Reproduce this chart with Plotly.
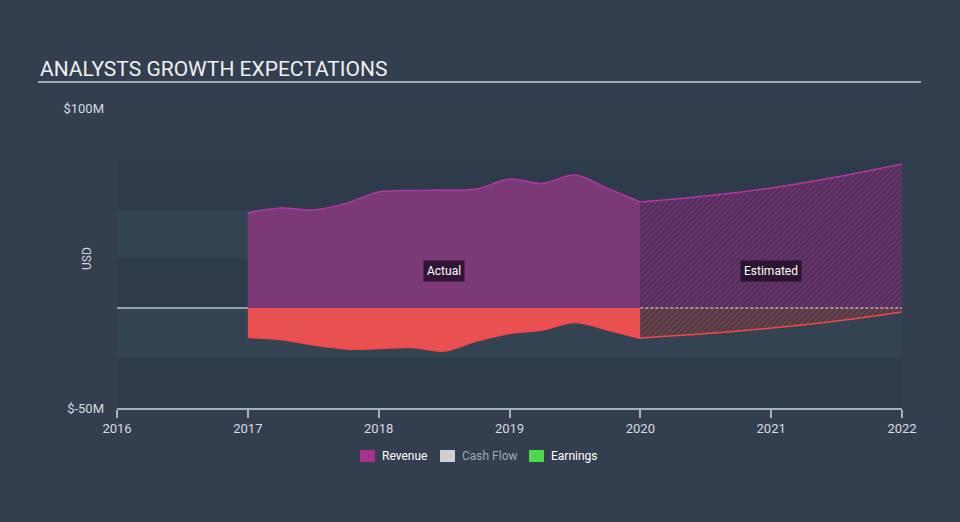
import plotly.graph_objects as go

# ---- data ----
actual_years = [2017, 2017.25, 2017.5, 2017.75, 2018, 2018.25, 2018.5, 2018.75,
                2019, 2019.25, 2019.5, 2019.75, 2020]
revenue_actual = [47.5, 50, 49, 52.3, 58, 58.8, 59, 59.5, 64.5, 62.3, 66.5, 59.8, 53]
earnings_actual = [-14.8, -15.8, -18.5, -20.5, -20.3, -19.8, -21.5, -16.5, -12.7,
                   -11, -7.2, -11, -15.2]

est_years = [2020, 2020.5, 2021, 2021.5, 2022]
revenue_est = [53, 56, 60, 65.5, 72]
earnings_est = [-15, -12.8, -10, -6.5, -2]

y_tick_vals = [-50, 100]
y_tick_text = ["$-50M", "$100M"]
x_tick_vals = [2016, 2017, 2018, 2019, 2020, 2021, 2022]

legend_items = ["Revenue", "Cash Flow", "Earnings"]
legend_colors = ["#a6348f", "#d0d0d0", "#4ddb4d"]
legend_text_colors = ["#ffffff", "#a0a8b2", "#ffffff"]

PAPER = "#333f4e"
DARK_BAND = "#2e3b4a"
LIGHT_BAND = "#344352"
FONT = "Roboto"

fig = go.Figure()

# actual revenue
fig.add_trace(go.Scatter(
    x=actual_years, y=revenue_actual, mode="lines", line_shape="spline",
    line=dict(color="#b3379f", width=1.5), fill="tozeroy",
    fillcolor="#7b3977", hoverinfo="skip", showlegend=False))
# actual earnings
fig.add_trace(go.Scatter(
    x=actual_years, y=earnings_actual, mode="lines", line_shape="spline",
    line=dict(color="#f04848", width=1.5), fill="tozeroy",
    fillcolor="#e95052", hoverinfo="skip", showlegend=False))
# estimated revenue (hatched)
fig.add_trace(go.Scatter(
    x=est_years, y=revenue_est, mode="lines", line_shape="spline",
    line=dict(color="#b3379f", width=1.5), fill="tozeroy",
    fillpattern=dict(shape="/", bgcolor="#4d2f57", fgcolor="#96388f",
                     size=4, solidity=0.45),
    hoverinfo="skip", showlegend=False))
# estimated earnings (hatched)
fig.add_trace(go.Scatter(
    x=est_years, y=earnings_est, mode="lines", line_shape="spline",
    line=dict(color="#f04848", width=1.5), fill="tozeroy",
    fillpattern=dict(shape="/", bgcolor="#463b47", fgcolor="#b0474a",
                     size=4, solidity=0.45),
    hoverinfo="skip", showlegend=False))

shapes = []
# background bands
bands = [(-50, -25, DARK_BAND), (-25, 0, LIGHT_BAND), (0, 24.5, DARK_BAND),
         (24.5, 49, LIGHT_BAND), (49, 74, DARK_BAND)]
for y0, y1, c in bands:
    shapes.append(dict(type="rect", xref="x", yref="y", x0=2016, x1=2022,
                       y0=y0, y1=y1, fillcolor=c, line=dict(width=0),
                       layer="below"))
# zero line
shapes.append(dict(type="line", xref="x", yref="y", x0=2016, x1=2017, y0=0, y1=0,
                   line=dict(color="#ffffff", width=1)))
shapes.append(dict(type="line", xref="x", yref="y", x0=2020, x1=2022, y0=0, y1=0,
                   line=dict(color="#e8e8e8", width=1, dash="3px,2px")))
# title underline
shapes.append(dict(type="line", xref="paper", yref="paper", x0=-0.1006, x1=1.0242,
                   y0=1.0867, y1=1.0867, line=dict(color="#a4abb3", width=2)))

annotations = [
    dict(text="ANALYSTS GROWTH EXPECTATIONS", xref="paper", yref="paper",
         x=-0.1006, y=1.13, xanchor="left", yanchor="middle", showarrow=False,
         font=dict(family=FONT, size=21, color="#eef0f2")),
    dict(text="USD", xref="paper", yref="paper", x=(87 - 117) / 785,
         y=(408 - 259) / 300, textangle=-90, showarrow=False,
         xanchor="center", yanchor="middle",
         font=dict(family=FONT, size=12, color="#d0d4d8")),
    dict(text="Actual", xref="x", yref="y", x=2018.5, y=18.5, showarrow=False,
         bgcolor="rgba(35,15,40,0.85)", borderpad=3,
         font=dict(family=FONT, size=12, color="#ffffff")),
    dict(text="Estimated", xref="x", yref="y", x=2021.0, y=18.5, showarrow=False,
         bgcolor="rgba(35,15,40,0.85)", borderpad=3,
         font=dict(family=FONT, size=12, color="#ffffff")),
]

# legend (manual)
sw_x = [360, 440, 529]
for name, col, tcol, px in zip(legend_items, legend_colors, legend_text_colors, sw_x):
    shapes.append(dict(type="rect", xref="paper", yref="paper",
                       x0=(px - 117) / 785, x1=(px + 15 - 117) / 785,
                       y0=(408 - 462) / 300, y1=(408 - 450) / 300,
                       fillcolor=col, line=dict(width=0)))
    annotations.append(dict(text=name, xref="paper", yref="paper",
                            x=(px + 20 - 117) / 785, y=(408 - 456) / 300,
                            xanchor="left", yanchor="middle", showarrow=False,
                            font=dict(family=FONT, size=12, color=tcol)))

fig.update_layout(
    width=960, height=522,
    margin=dict(l=117, r=58, t=108, b=114),
    paper_bgcolor=PAPER, plot_bgcolor=PAPER,
    font=dict(family=FONT, size=12, color="#d0d4d8"),
    shapes=shapes, annotations=annotations, showlegend=False,
    xaxis=dict(range=[2016, 2022], tickvals=x_tick_vals,
               ticktext=[str(v) for v in x_tick_vals],
               showgrid=False, zeroline=False, showline=True,
               linecolor="#a8b0bb", linewidth=1.5, ticks="outside",
               ticklen=8, tickcolor="#a8b0bb", tickwidth=1.5,
               tickfont=dict(family=FONT, size=13, color="#d8dce0")),
    yaxis=dict(range=[-50, 100], tickvals=y_tick_vals, ticktext=y_tick_text,
               showgrid=False, zeroline=False, showline=False, ticks="",
               ticklabelstandoff=12,
               tickfont=dict(family=FONT, size=13, color="#d8dce0")),
)

fig.write_html(
    "out.html",
    config={"displayModeBar": False},
    post_script="document.body.style.margin='0';"
                "document.body.style.background='#333f4e';"
                "document.body.style.overflow='hidden';",
)
